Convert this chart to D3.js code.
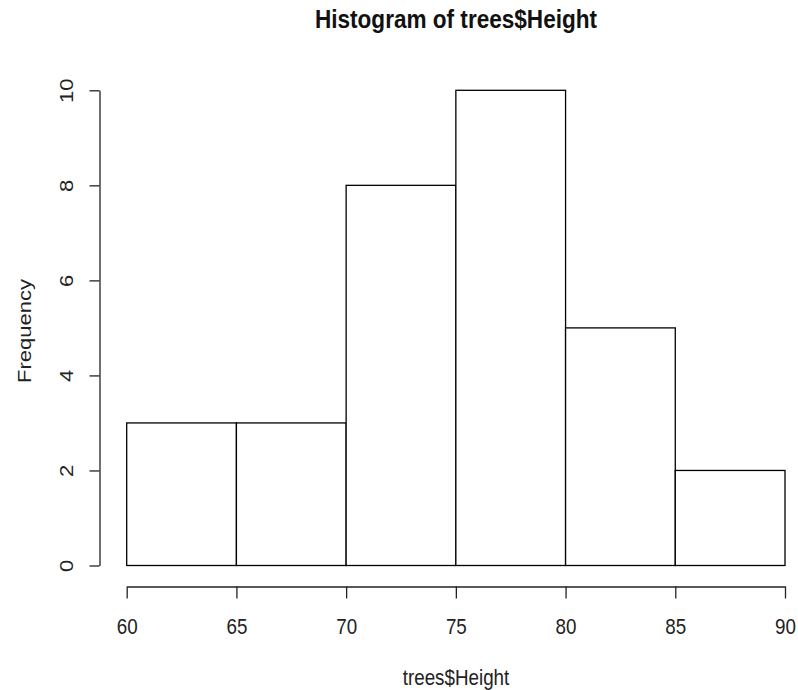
<!DOCTYPE html>
<html>
<head>
<meta charset="utf-8">
<script src="https://cdn.jsdelivr.net/npm/d3@7"></script>
<style>
  body { margin: 0; background: #fff; }
  svg { display: block; font-family: "Liberation Sans", Arial, sans-serif; }
</style>
</head>
<body>
<svg id="chart" width="798" height="690"></svg>
<script>
// histogram of trees$Height, breaks of 5
const breaks = [60, 65, 70, 75, 80, 85, 90];
const counts = [3, 3, 8, 10, 5, 2];
const xTicks = [60, 65, 70, 75, 80, 85, 90];
const yTicks = [0, 2, 4, 6, 8, 10];

const width = 798;
const height = 690;
const squeeze = 0.855;   // the R device text looks horizontally narrow
const fontSize = 22;

const svg = d3.select("#chart");

const x = d3.scaleLinear().domain([60, 90]).range([126.7, 785]);
const y = d3.scaleLinear().domain([0, 10]).range([565.5, 90.3]);

// bars
const bins = counts.map((c, i) => ({ x0: breaks[i], x1: breaks[i + 1], n: c }));
svg.append("g")
  .selectAll("rect")
  .data(bins)
  .join("rect")
  .attr("x", d => x(d.x0))
  .attr("y", d => y(d.n))
  .attr("width", d => x(d.x1) - x(d.x0))
  .attr("height", d => y(0) - y(d.n))
  .attr("fill", "#fff")
  .attr("stroke", "#000")
  .attr("stroke-width", 1.3);

// x axis
const gx = svg.append("g")
  .attr("transform", "translate(0,586.5)")
  .call(d3.axisBottom(x).tickValues(xTicks).tickSize(12).tickSizeOuter(0));
gx.select(".domain").attr("stroke", "#222").attr("stroke-width", 1.3);
gx.selectAll(".tick line").attr("stroke", "#222").attr("stroke-width", 1.3);
gx.selectAll(".tick text")
  .attr("y", null).attr("dy", null)
  .attr("transform", `translate(0,47) scale(${squeeze},1)`)
  .attr("font-size", fontSize)
  .attr("font-family", "Liberation Sans, Arial, sans-serif")
  .attr("fill", "#222");

// y axis, labels rotated like R's las=0
const gy = svg.append("g")
  .attr("transform", "translate(99.5,0)")
  .call(d3.axisLeft(y).tickValues(yTicks).tickSize(10).tickSizeOuter(0));
gy.select(".domain").attr("stroke", "#222").attr("stroke-width", 1.3);
gy.selectAll(".tick line").attr("stroke", "#222").attr("stroke-width", 1.3);
gy.selectAll(".tick text")
  .attr("x", null).attr("dy", null)
  .attr("text-anchor", "middle")
  .attr("transform", `translate(-26.5,0) rotate(-90) scale(1,${squeeze})`)
  .attr("font-size", fontSize)
  .attr("font-family", "Liberation Sans, Arial, sans-serif")
  .attr("fill", "#222");

// title
svg.append("text")
  .attr("transform", `translate(456,28) scale(${squeeze},1)`)
  .attr("text-anchor", "middle")
  .attr("font-size", fontSize * 1.2)
  .attr("font-weight", "bold")
  .attr("fill", "#111")
  .text("Histogram of trees$Height");

// axis titles
svg.append("text")
  .attr("transform", `translate(456,685) scale(${squeeze},1)`)
  .attr("text-anchor", "middle")
  .attr("font-size", fontSize)
  .attr("fill", "#222")
  .text("trees$Height");

svg.append("text")
  .attr("transform", `translate(30.5,331) rotate(-90) scale(1,${squeeze})`)
  .attr("text-anchor", "middle")
  .attr("font-size", fontSize)
  .attr("fill", "#222")
  .text("Frequency");
</script>
</body>
</html>
